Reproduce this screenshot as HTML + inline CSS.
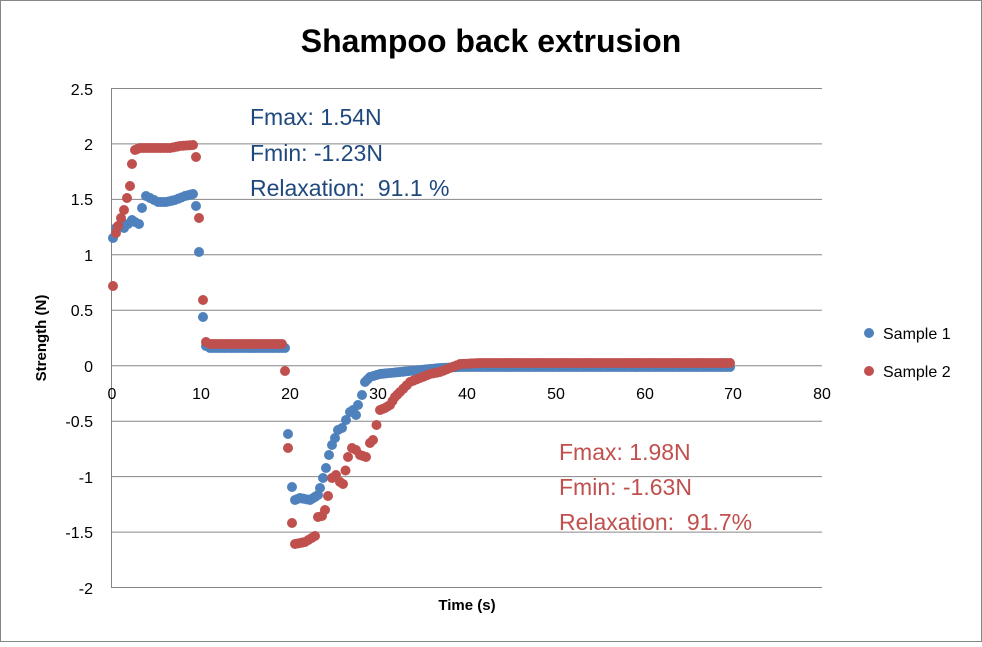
<!DOCTYPE html>
<html><head><meta charset="utf-8"><style>
body{margin:0;background:#fff;font-family:"Liberation Sans",sans-serif}
svg text{font-family:"Liberation Sans",sans-serif}
</style></head><body>
<svg id="s" width="982" height="642" xmlns="http://www.w3.org/2000/svg">
<rect x="0.5" y="0.5" width="981" height="641" fill="#fff" stroke="#868686"/>
<text x="491" y="52" font-size="32" font-weight="bold" text-anchor="middle">Shampoo back extrusion</text>
<g stroke="#868686" stroke-width="1">
<line x1="112" y1="88.5" x2="822" y2="88.5"/>
<line x1="112" y1="143.9" x2="822" y2="143.9"/>
<line x1="112" y1="199.4" x2="822" y2="199.4"/>
<line x1="112" y1="254.8" x2="822" y2="254.8"/>
<line x1="112" y1="310.3" x2="822" y2="310.3"/>
<line x1="112" y1="365.7" x2="822" y2="365.7"/>
<line x1="112" y1="421.2" x2="822" y2="421.2"/>
<line x1="112" y1="476.6" x2="822" y2="476.6"/>
<line x1="112" y1="532.1" x2="822" y2="532.1"/>
<line x1="112" y1="587.5" x2="822" y2="587.5"/>
<line x1="111.5" y1="88" x2="111.5" y2="588"/>
</g>
<g font-size="16" text-anchor="end">
<text x="93" y="95">2.5</text><text x="93" y="150">2</text><text x="93" y="205">1.5</text>
<text x="93" y="261">1</text><text x="93" y="316">0.5</text><text x="93" y="372">0</text>
<text x="93" y="427">-0.5</text><text x="93" y="483">-1</text><text x="93" y="538">-1.5</text><text x="93" y="594">-2</text>
</g>
<g font-size="16" text-anchor="middle">
<text x="112" y="399">0</text><text x="201" y="399">10</text><text x="290" y="399">20</text><text x="378" y="399">30</text>
<text x="467" y="399">40</text><text x="556" y="399">50</text><text x="645" y="399">60</text><text x="733" y="399">70</text><text x="822" y="399">80</text>
</g>
<text x="467" y="610" font-size="15" font-weight="bold" text-anchor="middle">Time (s)</text>
<text transform="translate(46,338) rotate(-90)" font-size="15" font-weight="bold" text-anchor="middle">Strength (N)</text>
<g id="pts"></g>
<g fill="#1f497d" font-size="23"><text x="250" y="125">Fmax: 1.54N</text><text x="250" y="161">Fmin: -1.23N</text><text x="250" y="196">Relaxation:&#160; 91.1 %</text></g>
<g fill="#c0504d" font-size="23"><text x="559" y="460">Fmax: 1.98N</text><text x="559" y="495">Fmin: -1.63N</text><text x="559" y="530">Relaxation:&#160; 91.7%</text></g>
<circle cx="869" cy="333" r="5" fill="#4f81bd"/><text x="883" y="339" font-size="16">Sample 1</text>
<circle cx="869" cy="371" r="5" fill="#c0504d"/><text x="883" y="377" font-size="16">Sample 2</text>
</svg>
<script>
var B=[[113,238],[116,228],[120,226],[124,228],[128,224],[132,220],[135,222],[139,224],[142,208],[146,196],[150,198],[154,200],[158,202],[166,202],[175,200],[185,196],[193,194],[196,206],[199,252],[203,317],[206,346],[210,348],[285,348],[288,434],[292,487],[295,500],[300,498],[310,500],[318,495],[320,488],[323,478],[326,468],[329,455],[332,445],[335,438],[338,430],[342,428],[346,420],[350,412],[353,410],[356,415],[358,405],[362,395],[365,382],[370,377],[380,374],[400,372],[420,370],[440,368],[460,367],[730,367]];
var R=[[113,286],[116,233],[118,226],[121,218],[124,210],[127,198],[130,186],[132,164],[135,150],[140,148],[170,148],[180,146],[193,145],[196,157],[199,218],[203,300],[206,342],[210,344],[282,344],[285,371],[288,448],[292,523],[295,544],[305,542],[315,536],[318,517],[322,516],[325,510],[328,496],[332,478],[336,475],[340,482],[343,484],[348,457],[352,448],[356,450],[360,455],[366,457],[370,443],[373,440],[380,410],[385,408],[390,405],[395,397],[400,392],[410,382],[420,378],[430,374],[440,372],[450,368],[460,364],[480,363],[730,363]];
var g=document.getElementById('pts'),ns='http://www.w3.org/2000/svg';
function draw(A,c){for(var i=0;i<A.length-1;i++){var a=A[i],b=A[i+1],n=Math.max(1,Math.round((b[0]-a[0])/3));for(var k=0;k<n;k++){var t=k/n,e=document.createElementNS(ns,'circle');e.setAttribute('cx',a[0]+(b[0]-a[0])*t);e.setAttribute('cy',a[1]+(b[1]-a[1])*t);e.setAttribute('r',5);e.setAttribute('fill',c);g.appendChild(e);}}var l=A[A.length-1],e=document.createElementNS(ns,'circle');e.setAttribute('cx',l[0]);e.setAttribute('cy',l[1]);e.setAttribute('r',5);e.setAttribute('fill',c);g.appendChild(e);}
draw(B,'#4f81bd');draw(R,'#c0504d');
</script>
</body></html>
